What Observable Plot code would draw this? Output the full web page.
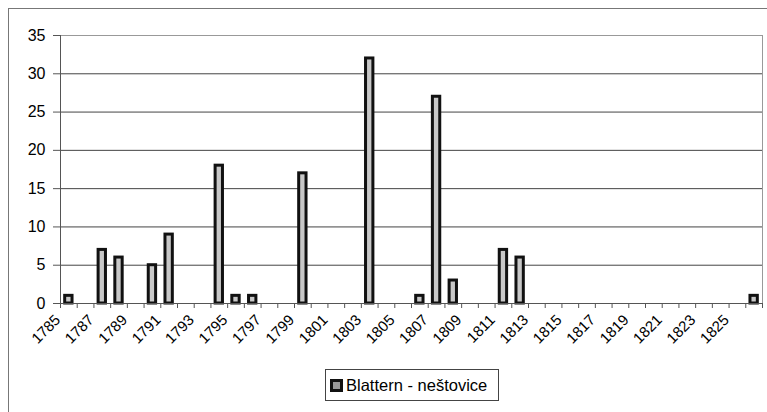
<!DOCTYPE html>
<html>
<head>
<meta charset="utf-8">
<script src="https://cdn.jsdelivr.net/npm/d3@7"></script>
<script src="https://cdn.jsdelivr.net/npm/@observablehq/plot@0.6"></script>
<style>
  html, body { margin: 0; padding: 0; background: #fff; overflow: hidden; }
  #wrap { position: relative; width: 767px; height: 412px; font-family: "Liberation Sans", Arial, sans-serif; }
  #frame { position: absolute; left: 8px; top: 8px; width: 800px; height: 500px; border: 1.5px solid #777; box-sizing: border-box; }
  #legend { position: absolute; left: 325px; top: 369px; width: 174px; height: 32px; border: 1px solid #444; box-sizing: border-box; background: #fff; display: flex; align-items: center; font-size: 16.5px; color: #000; }
  #legend .sw { width: 13px; height: 13px; box-sizing: border-box; border: 3px solid #111; background: #999; margin-left: 4px; margin-right: 3px; }
  svg { position: absolute; left: 0; top: 0; }
</style>
</head>
<body>
<div id="wrap">
  <div id="frame"></div>
  <div id="chart"></div>
  <div id="legend"><div class="sw"></div><span id="legtext"></span></div>
</div>
<script>
const seriesName = "Blattern - neštovice";
const years = d3.range(1785, 1827);
const barYears = [1785, 1787, 1788, 1790, 1791, 1794, 1795, 1796, 1799, 1803, 1806, 1807, 1808, 1811, 1812, 1826];
const barValues = [1, 7, 6, 5, 9, 18, 1, 1, 17, 32, 1, 27, 3, 7, 6, 1];
const yTicks = [0, 5, 10, 15, 20, 25, 30, 35];
const xLabelYears = d3.range(1785, 1826, 2);

const data = barYears.map((y, i) => ({year: y, value: barValues[i]}));
const edges = years.map(y => y - 0.5).concat([years[years.length - 1] + 0.5]);
const half = 0.22;

const chart = Plot.plot({
  width: 767,
  height: 412,
  marginLeft: 60,
  marginRight: 5,
  marginTop: 35,
  marginBottom: 109,
  style: {fontFamily: "'Liberation Sans', Arial, sans-serif", background: "transparent", overflow: "visible"},
  x: {type: "linear", domain: [years[0] - 0.5, years[years.length - 1] + 0.5]},
  y: {domain: [0, 35]},
  marks: [
    Plot.frame({stroke: "#999", strokeWidth: 1}),
    Plot.gridY(yTicks.filter(t => t > 0 && t < 35), {stroke: "#444", strokeOpacity: 1, strokeWidth: 1}),
    Plot.rectY(data, {x1: d => d.year - half, x2: d => d.year + half, y: "value", fill: "#c8c8c8", stroke: "#111", strokeWidth: 3}),
    Plot.ruleX([years[0] - 0.5], {stroke: "#555", strokeWidth: 1}),
    Plot.ruleY([0], {stroke: "#555", strokeWidth: 1}),
    Plot.axisY({ticks: yTicks, tickSize: 7, tickPadding: 8, fontSize: 16, stroke: "#555", color: "#000", label: null}),
    Plot.axisX({ticks: edges, tickSize: 5, tickFormat: () => "", stroke: "#555", label: null}),
    Plot.axisX({ticks: xLabelYears, tickSize: 0, tickPadding: 14, dx: -11, tickRotate: -45, fontSize: 15, color: "#000", tickFormat: d => String(d), label: null})
  ]
});
document.getElementById("chart").appendChild(chart);
document.getElementById("legtext").textContent = seriesName;
</script>
</body>
</html>
